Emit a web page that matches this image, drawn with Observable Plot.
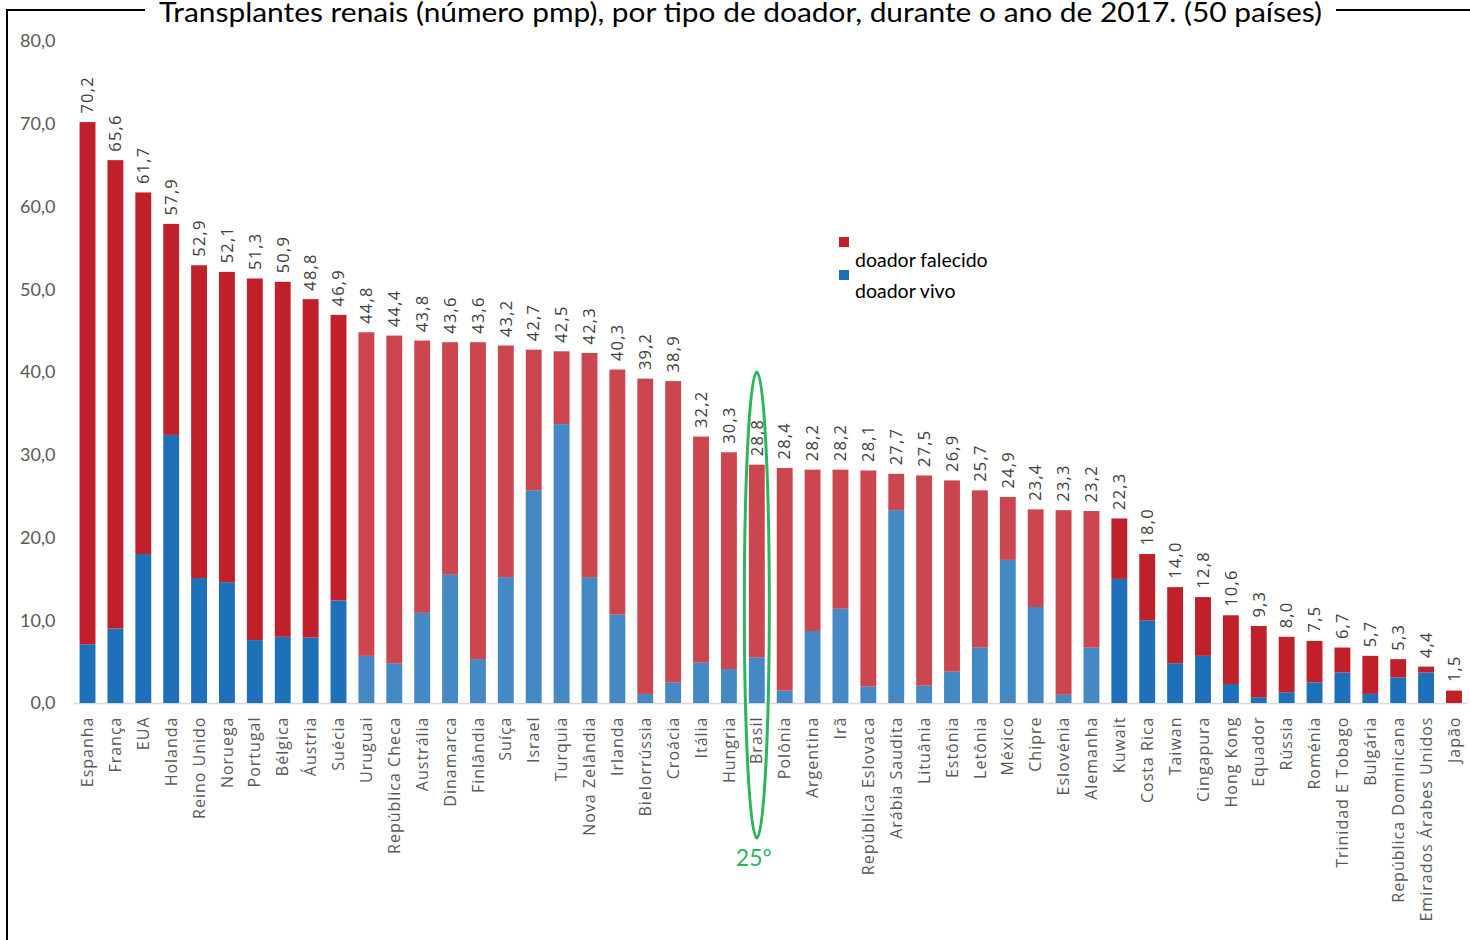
<!DOCTYPE html>
<html>
<head>
<meta charset="utf-8">
<script src="https://cdn.jsdelivr.net/npm/d3@7"></script>
<script src="https://cdn.jsdelivr.net/npm/@observablehq/plot@0.6"></script>
<style>
  body { margin: 0; background: #fff; }
  #wrap { position: relative; width: 1470px; height: 940px; overflow: hidden; background: #fff; }
  #overlay { position: absolute; left: 0; top: 0; pointer-events: none; }
  #chart { position: absolute; left: 0; top: 0; }
</style>
</head>
<body>
<div id="wrap">
  <div id="chart"></div>
  <svg id="overlay" width="1470" height="940"></svg>
</div>
<script>
// ---- data ----
const countries = ["Espanha","França","EUA","Holanda","Reino Unido","Noruega","Portugal","Bélgica","Áustria","Suécia",
  "Uruguai","República Checa","Austrália","Dinamarca","Finlândia","Suíça","Israel","Turquia","Nova Zelândia","Irlanda",
  "Bielorrússia","Croácia","Itália","Hungria","Brasil","Polônia","Argentina","Irã","República Eslovaca","Arábia Saudita",
  "Lituânia","Estônia","Letônia","México","Chipre","Eslovénia","Alemanha","Kuwait","Costa Rica","Taiwan",
  "Cingapura","Hong Kong","Equador","Rússia","Roménia","Trinidad E Tobago","Bulgária","República Dominicana","Emirados Árabes Unidos","Japão"];
const totals = [70.2,65.6,61.7,57.9,52.9,52.1,51.3,50.9,48.8,46.9,
  44.8,44.4,43.8,43.6,43.6,43.2,42.7,42.5,42.3,40.3,
  39.2,38.9,32.2,30.3,28.8,28.4,28.2,28.2,28.1,27.7,
  27.5,26.9,25.7,24.9,23.4,23.3,23.2,22.3,18.0,14.0,
  12.8,10.6,9.3,8.0,7.5,6.7,5.7,5.3,4.4,1.5];
const vivo = [7.1,9.0,18.0,32.4,15.1,14.6,7.6,8.0,7.9,12.4,
  5.7,4.8,10.9,15.5,5.3,15.2,25.7,33.7,15.2,10.7,
  1.1,2.5,4.9,4.1,5.5,1.5,8.7,11.4,2.0,23.3,
  2.1,3.8,6.7,17.3,11.6,1.0,6.7,15.0,10.0,4.8,
  5.7,2.3,0.7,1.3,2.5,3.7,1.1,3.1,3.7,0.0];
const falecido = totals.map((t, i) => +(t - vivo[i]).toFixed(1));
const series = ["doador falecido", "doador vivo"];
const colors = ["#C0202A", "#1E70B8"];
const yTicks = [0, 10, 20, 30, 40, 50, 60, 70, 80];
const titleText = "Transplantes renais (número pmp), por tipo de doador, durante o ano de 2017. (50 países)";
const highlight = "Brasil";
const highlightLabel = "25º";
const highlightTop = 40.0;
const fadedFrom = "Uruguai", fadedTo = "Alemanha";

// ---- table ----
const rows = [];
countries.forEach((c, i) => rows.push({pais: c, tipo: "doador vivo", valor: vivo[i], i}));
countries.forEach((c, i) => rows.push({pais: c, tipo: "doador falecido", valor: falecido[i], i}));
const i0 = countries.indexOf(fadedFrom), i1 = countries.indexOf(fadedTo);
const fmt = d => d.toFixed(1).replace(".", ",");
const green = "#2DB55D";

function highlightMark(index, scales) {
  const xs = scales.x, ys = scales.y;
  const bw = xs.bandwidth ? xs.bandwidth() : 16;
  const cx = xs(highlight) + bw / 2;
  const top = ys(highlightTop);
  const bottom = ys(0) + 135;
  const g = d3.create("svg:g");
  g.append("ellipse")
    .attr("cx", cx).attr("cy", (top + bottom) / 2)
    .attr("rx", 12.5).attr("ry", (bottom - top) / 2)
    .attr("fill", "none").attr("stroke", green).attr("stroke-width", 3);
  g.append("text")
    .attr("x", cx - 3).attr("y", bottom + 28)
    .attr("text-anchor", "middle")
    .attr("font-family", "Lato, sans-serif").attr("font-size", 23)
    .attr("fill", green).text(highlightLabel);
  return g.node();
}

const chart = Plot.plot({
  width: 1470, height: 940,
  marginLeft: 74, marginRight: 2.5, marginTop: 41, marginBottom: 237,
  style: {background: "transparent", fontFamily: "'Open Sans', sans-serif", overflow: "visible"},
  x: {domain: countries, paddingInner: 0.43, paddingOuter: 0.2, axis: null},
  y: {domain: [0, 80], axis: null},
  color: {domain: series, range: colors},
  opacity: {type: "identity"},
  marks: [
    Plot.ruleY([0], {stroke: "#d9d9d9", strokeWidth: 1.5}),
    Plot.barY(rows, {x: "pais", y: "valor", fill: "tipo",
      fillOpacity: d => (d.i >= i0 && d.i <= i1) ? 0.83 : 1,
      order: ["doador vivo", "doador falecido"]}),
    Plot.text(countries, {x: d => d, y: (d, i) => totals[i], text: (d, i) => fmt(totals[i]),
      rotate: -90, textAnchor: "start", lineAnchor: "middle", dy: -9,
      fontSize: 16.5, fill: "#404040", fontFamily: "'Open Sans', sans-serif"}),
    Plot.axisX({tickRotate: -90, tickSize: 0, tickPadding: 13, fontSize: 16,
      color: "#595959", label: null, fontFamily: "'Open Sans', sans-serif"}),
    Plot.axisY({ticks: yTicks, tickFormat: fmt, tickSize: 0, tickPadding: 19, fontSize: 18,
      color: "#595959", label: null, fontFamily: "Lato, sans-serif"}),
    highlightMark
  ]
});
// Excel-like letter spacing for rotated labels
d3.select(chart).selectAll('g[aria-label="x-axis tick label"] text').style("letter-spacing", "1px");
d3.select(chart).selectAll('g[aria-label="text"] text').style("letter-spacing", "1.2px");
document.getElementById("chart").appendChild(chart);

// ---- overlay: frame, title, legend ----
const ov = d3.select("#overlay");
ov.append("line").attr("x1", 7).attr("x2", 7).attr("y1", 9).attr("y2", 940).attr("stroke", "#000").attr("stroke-width", 2);
ov.append("line").attr("x1", 6).attr("x2", 145).attr("y1", 10).attr("y2", 10).attr("stroke", "#000").attr("stroke-width", 2);
ov.append("line").attr("x1", 1336).attr("x2", 1470).attr("y1", 10).attr("y2", 10).attr("stroke", "#000").attr("stroke-width", 2);
ov.append("text").attr("x", 740.5).attr("y", 22).attr("text-anchor", "middle")
  .attr("font-family", "Lato, sans-serif").attr("font-size", 26).attr("fill", "#000")
  .attr("textLength", 1163).attr("lengthAdjust", "spacingAndGlyphs").text(titleText);
const legendRows = [{y: 237, ty: 267}, {y: 270, ty: 298}];
series.forEach((s, k) => {
  ov.append("rect").attr("x", 839).attr("y", legendRows[k].y).attr("width", 10).attr("height", 10).attr("fill", colors[k]);
  ov.append("text").attr("x", 855).attr("y", legendRows[k].ty)
    .attr("font-family", "Lato, sans-serif").attr("font-size", 19.5).attr("fill", "#000").text(s);
});
</script>
</body>
</html>
